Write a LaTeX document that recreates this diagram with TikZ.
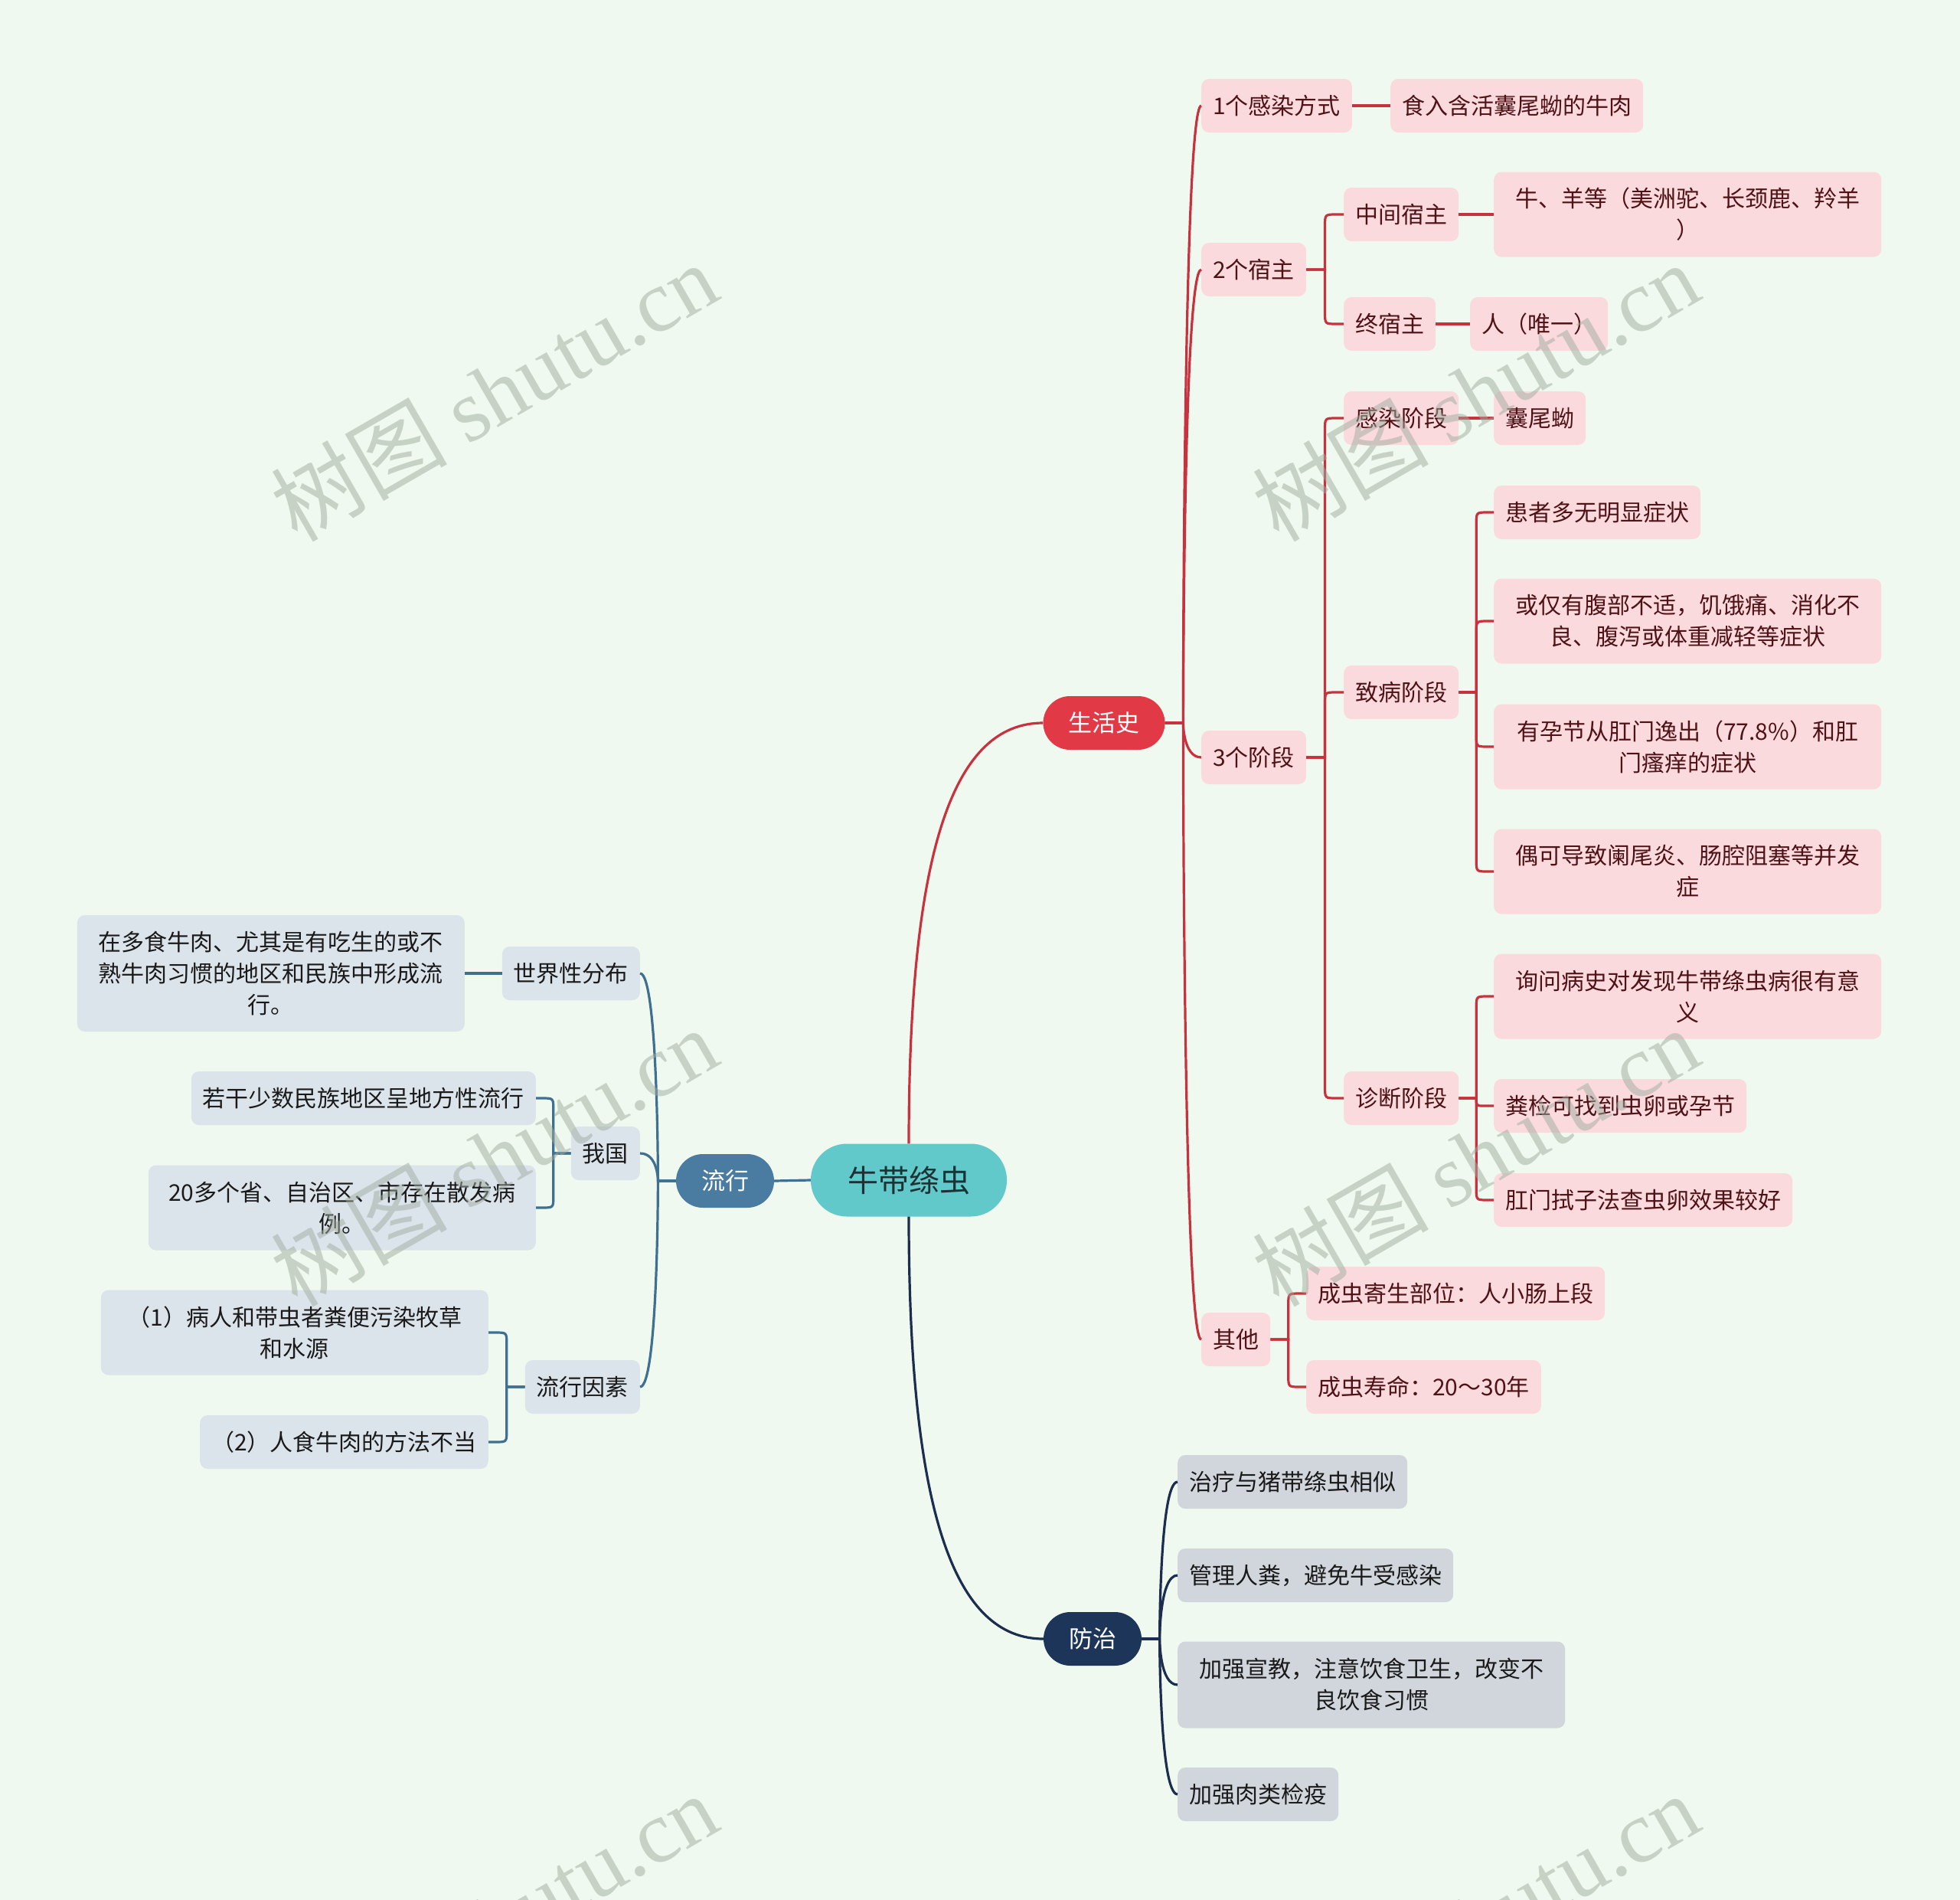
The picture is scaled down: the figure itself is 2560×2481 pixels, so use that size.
\documentclass[tikz,border=0pt]{standalone}
\usepackage{fontspec}
\setmainfont{Noto Sans CJK SC}
\newfontfamily\wmcjk{Noto Sans CJK SC}
\newfontfamily\wmlat{Liberation Serif}
\usetikzlibrary{calc}
\definecolor{bg}{HTML}{F0F9EF}
\definecolor{pinkfill}{HTML}{FADADD}
\definecolor{pinktext}{HTML}{4E1217}
\definecolor{redmain}{HTML}{E23946}
\definecolor{redline}{HTML}{C8323E}
\definecolor{tealmain}{HTML}{62C9CB}
\definecolor{roottext}{HTML}{1E3236}
\definecolor{bluemain}{HTML}{4A7BA0}
\definecolor{blueline}{HTML}{3F6F91}
\definecolor{bluefill}{HTML}{DCE4EB}
\definecolor{navymain}{HTML}{1D3558}
\definecolor{navyline}{HTML}{1B2E4E}
\definecolor{grayfill}{HTML}{D1D6DD}
\definecolor{darktext}{HTML}{1A1A1A}
\definecolor{wmcol}{HTML}{A0ACA0}
\begin{document}
\begin{tikzpicture}[x=1pt,y=1pt,
  nbox/.style={rounded corners=10pt, inner xsep=15pt, inner ysep=4pt, minimum height=70pt, align=center, font=\fontsize{30pt}{41pt}\selectfont},
  pinkbox/.style={nbox, fill=pinkfill, text=pinktext},
  bluebox/.style={nbox, fill=bluefill, text=darktext},
  graybox/.style={nbox, fill=grayfill, text=darktext},
  widebox/.style={minimum width=506pt, minimum height=111pt},
  tallbox/.style={minimum width=506pt, minimum height=152pt},
  mainbox/.style={rounded corners=35pt, minimum height=70pt, inner xsep=33pt, inner ysep=0pt, text=white, font=\fontsize{31pt}{36pt}\selectfont},
  rootbox/.style={rounded corners=47pt, minimum height=95pt, inner xsep=48pt, inner ysep=0pt, fill=tealmain, text=roottext, font=\fontsize{40pt}{46pt}\selectfont},
  redln/.style={draw=redline, line width=3.2pt},
  blueln/.style={draw=blueline, line width=3.2pt},
  navyln/.style={draw=navyline, line width=3.2pt},
  wmark/.style={rotate=30, text=wmcol, opacity=0.5, inner sep=0pt, font=\fontsize{115pt}{115pt}\selectfont},
  lvlone/.style={to path={let \p1=(\tikztostart), \p2=(\tikztotarget), \n1={(\x1+\x2)/2} in
     (\p1) -- (\n1,\y1) .. controls (\n1,\y1) and (\n1,\y2) .. (\p2)}},
  elbowto/.style={to path={let \p1=(\tikztostart), \p2=(\tikztotarget),
     \n1={(\x1+\x2)/2}, \n2={\y1}, \n3={\y2},
     \n4={(\n3>\n2 ? -1 : 1)*min(15,abs(\n3-\n2))},
     \n5={(\x2>\x1 ? 1 : -1)*abs(\n4)} in
     (\p1) -- (\n1,\n2) -- (\n1,\n3+\n4) .. controls (\n1,\n3) .. (\n1+\n5,\n3) -- (\p2)}}
]
\fill[bg] (0,0) rectangle (2560,-2481);
\useasboundingbox (0,0) rectangle (2560,-2481);
\clip (0,0) rectangle (2560,-2481);

% central and main nodes
\node[rootbox] (root) at (1187,-1541) {牛带绦虫};
\node[mainbox, fill=redmain] (shs) at (1442,-944) {生活史};
\node[mainbox, fill=bluemain] (lx) at (947,-1542) {流行};
\node[mainbox, fill=navymain] (fz) at (1427,-2140) {防治};

% 生活史 branch
\node[pinkbox, anchor=west] (a1) at (1569,-138) {1个感染方式};
\node[pinkbox, anchor=west] (a1x) at (1816,-138) {食入含活囊尾蚴的牛肉};
\node[pinkbox, anchor=west] (a2) at (1569,-352) {2个宿主};
\node[pinkbox, anchor=west] (a2a) at (1755,-280) {中间宿主};
\node[pinkbox, widebox, anchor=west] (a2a1) at (1951,-280) {牛、羊等（美洲驼、长颈鹿、羚羊\\）};
\node[pinkbox, anchor=west] (a2b) at (1755,-423) {终宿主};
\node[pinkbox, anchor=west] (a2b1) at (1920,-423) {人（唯一）};
\node[pinkbox, anchor=west] (a3) at (1569,-989) {3个阶段};
\node[pinkbox, anchor=west] (a3a) at (1755,-546) {感染阶段};
\node[pinkbox, anchor=west] (a3a1) at (1951,-546) {囊尾蚴};
\node[pinkbox, anchor=west] (a3b) at (1755,-904) {致病阶段};
\node[pinkbox, anchor=west] (a3b1) at (1951,-669) {患者多无明显症状};
\node[pinkbox, widebox, anchor=west] (a3b2) at (1951,-811) {或仅有腹部不适，饥饿痛、消化不\\良、腹泻或体重减轻等症状};
\node[pinkbox, widebox, anchor=west] (a3b3) at (1951,-975) {有孕节从肛门逸出（77.8\%）和肛\\门瘙痒的症状};
\node[pinkbox, widebox, anchor=west] (a3b4) at (1951,-1138) {偶可导致阑尾炎、肠腔阻塞等并发\\症};
\node[pinkbox, anchor=west] (a3c) at (1755,-1434) {诊断阶段};
\node[pinkbox, widebox, anchor=west] (a3c1) at (1951,-1301) {询问病史对发现牛带绦虫病很有意\\义};
\node[pinkbox, anchor=west] (a3c2) at (1951,-1444) {粪检可找到虫卵或孕节};
\node[pinkbox, anchor=west] (a3c3) at (1951,-1567) {肛门拭子法查虫卵效果较好};
\node[pinkbox, anchor=west] (a4) at (1569,-1749) {其他};
\node[pinkbox, anchor=west] (a4a) at (1706,-1689) {成虫寄生部位：人小肠上段};
\node[pinkbox, anchor=west] (a4b) at (1706,-1811) {成虫寿命：20～30年};

% 流行 branch
\node[bluebox, anchor=east] (b1) at (836,-1271) {世界性分布};
\node[bluebox, tallbox, anchor=east] (b1a) at (607,-1271) {在多食牛肉、尤其是有吃生的或不\\熟牛肉习惯的地区和民族中形成流\\行。};
\node[bluebox, anchor=east] (b2) at (836,-1506) {我国};
\node[bluebox, anchor=east] (b2a) at (700,-1434) {若干少数民族地区呈地方性流行};
\node[bluebox, widebox, anchor=east] (b2b) at (700,-1577) {20多个省、自治区、市存在散发病\\例。};
\node[bluebox, anchor=east] (b3) at (836,-1811) {流行因素};
\node[bluebox, widebox, anchor=east] (b3a) at (638,-1740) {（1）病人和带虫者粪便污染牧草\\和水源};
\node[bluebox, anchor=east] (b3b) at (638,-1883) {（2）人食牛肉的方法不当};

% 防治 branch
\node[graybox, anchor=west] (c1) at (1538,-1935) {治疗与猪带绦虫相似};
\node[graybox, anchor=west] (c2) at (1538,-2057) {管理人粪，避免牛受感染};
\node[graybox, widebox, minimum height=113pt, anchor=west] (c3) at (1538,-2200) {加强宣教，注意饮食卫生，改变不\\良饮食习惯};
\node[graybox, anchor=west] (c4) at (1538,-2343) {加强肉类检疫};

% connectors: 生活史
\draw[redln] (root.north) .. controls +(0,390) and +(-115,0) .. (shs.west);
\foreach \c in {a1,a2,a3,a4} \draw[redln] (shs.east) to[lvlone] (\c.west);
\draw[redln] (a1.east) to[elbowto] (a1x.west);
\draw[redln] (a2.east) to[elbowto] (a2a.west);
\draw[redln] (a2.east) to[elbowto] (a2b.west);
\draw[redln] (a2a.east) to[elbowto] (a2a1.west);
\draw[redln] (a2b.east) to[elbowto] (a2b1.west);
\foreach \c in {a3a,a3b,a3c} \draw[redln] (a3.east) to[elbowto] (\c.west);
\draw[redln] (a3a.east) to[elbowto] (a3a1.west);
\foreach \c in {a3b1,a3b2,a3b3,a3b4} \draw[redln] (a3b.east) to[elbowto] (\c.west);
\foreach \c in {a3c1,a3c2,a3c3} \draw[redln] (a3c.east) to[elbowto] (\c.west);
\foreach \c in {a4a,a4b} \draw[redln] (a4.east) to[elbowto] (\c.west);

% connectors: 流行
\draw[blueln] (root.west) -- (lx.east);
\foreach \c in {b1,b2,b3} \draw[blueln] (lx.west) to[lvlone] (\c.east);
\draw[blueln] (b1.west) to[elbowto] (b1a.east);
\foreach \c in {b2a,b2b} \draw[blueln] (b2.west) to[elbowto] (\c.east);
\foreach \c in {b3a,b3b} \draw[blueln] (b3.west) to[elbowto] (\c.east);

% connectors: 防治
\draw[navyln] (root.south) .. controls +(0,-390) and +(-115,0) .. (fz.west);
\foreach \c in {c1,c2,c3,c4} \draw[navyln] (fz.east) to[lvlone] (\c.west);

% watermarks
\foreach \i/\x/\y in {1/645/-511, 2/1927/-511, 3/645/-1510, 4/1927/-1510, 5/645/-2510, 6/1927/-2510}
  \node[wmark] (wm\i) at (\x,\y) {{\wmcjk 树图} {\wmlat shutu.cn}};
\end{tikzpicture}
\end{document}
